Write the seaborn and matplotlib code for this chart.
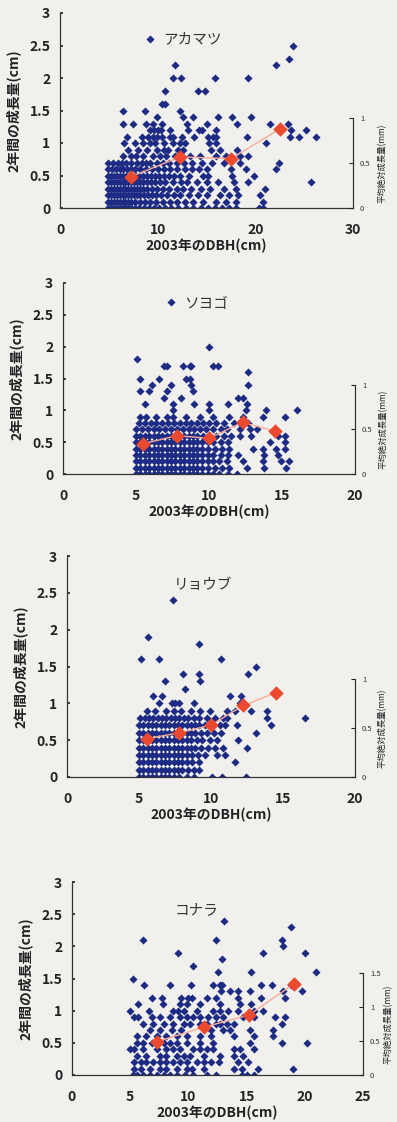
import matplotlib
matplotlib.use("Agg")
import matplotlib.pyplot as plt
import numpy as np
import pandas as pd
import seaborn as sns

sns.set_theme(style="white")
plt.rcParams["font.family"] = ["Noto Sans CJK JP", "DejaVu Sans"]

# ---------------- data ----------------
species = ["アカマツ", "ソヨゴ", "リョウブ", "コナラ"]
x_max = [30, 20, 20, 25]
x_ticks = [[0, 10, 20, 30], [0, 5, 10, 15, 20], [0, 5, 10, 15, 20], [0, 5, 10, 15, 20, 25]]
y_ticks = [0, 0.5, 1, 1.5, 2, 2.5, 3]
y_tick_labels = ["0", "0.5", "1", "1.5", "2", "2.5", "3"]
right_ticks = [[0, 0.5, 1], [0, 0.5, 1], [0, 0.5, 1], [0, 0.5, 1, 1.5]]
right_tick_labels = [["0", "0.5", "1"], ["0", "0.5", "1"], ["0", "0.5", "1"], ["0", "0.5", "1", "1.5"]]
right_top = [1.0, 1.0, 1.0, 1.5]
# how many left-axis cm one right-axis mm spans
right_scale = [1.38, 1.40, 1.33, 1.06]

# growth (cm) -> list of DBH values (cm)
akamatsu_rows = {
    2.6: [9.2], 2.5: [23.9], 2.3: [23.4], 2.2: [11.8, 22.1],
    2.0: [11.6, 12.4, 15.9, 19.3], 1.8: [10.8, 14.1, 14.8], 1.6: [10.4, 10.7],
    1.5: [6.4, 8.7, 12.3],
    1.4: [9.9, 12.6, 13.6, 16.2, 17.6, 19.6],
    1.3: [6.5, 7.5, 8.8, 9.5, 10.4, 13.0, 15.0, 18.1, 21.5, 23.3],
    1.2: [9.2, 9.6, 10.0, 10.3, 11.3, 13.1, 14.2, 14.5, 16.0, 23.7, 25.2],
    1.1: [6.9, 8.4, 9.0, 9.5, 9.9, 10.4, 11.3, 11.6, 12.5, 13.7, 15.2, 15.7, 16.0, 19.1, 23.5, 24.5, 26.2],
    1.0: [6.6, 7.7, 8.5, 9.2, 9.7, 10.6, 11.6, 12.3, 12.8, 15.3, 16.0, 21.1],
    0.9: [7.0, 8.0, 8.9, 9.9, 10.6, 11.1, 12.1, 12.6, 15.5, 16.4, 18.1],
    0.8: [6.5, 7.3, 7.8, 8.5, 9.5, 10.2, 10.9, 11.8, 13.3, 14.3, 16.0, 17.0, 18.4, 19.3],
    0.7: [4.9, 5.4, 5.9, 6.3, 6.8, 7.3, 7.9, 8.4, 8.8, 9.2, 9.9, 10.5, 11.2, 12.0, 12.7, 13.5, 14.5, 15.6, 16.8, 18.4, 22.4],
    0.6: [4.9, 5.3, 5.7, 6.1, 6.5, 6.9, 7.3, 7.7, 8.2, 8.8, 9.4, 10.0, 10.6, 11.3, 12.0, 12.8, 13.5, 14.2, 15.0, 17.5, 19.0, 22.1],
    0.5: [4.9, 5.2, 5.5, 5.8, 6.1, 6.4, 6.8, 7.1, 7.4, 7.8, 8.1, 8.5, 8.9, 9.3, 9.7, 10.1, 10.6, 11.2, 11.7, 12.3, 13.2, 14.6, 15.2, 17.6, 19.9],
    0.4: [4.9, 5.2, 5.5, 5.8, 6.1, 6.4, 6.7, 7.0, 7.3, 7.6, 7.9, 8.2, 8.5, 8.9, 9.3, 9.7, 10.2, 10.8, 11.6, 12.4, 13.0, 14.0, 15.0, 16.2, 17.8, 19.2, 25.7],
    0.3: [4.9, 5.2, 5.5, 5.8, 6.1, 6.4, 6.7, 7.0, 7.3, 7.6, 7.9, 8.2, 8.5, 8.9, 9.4, 9.9, 10.5, 11.2, 12.0, 12.6, 13.4, 14.4, 15.4, 16.8, 18.0, 21.0],
    0.2: [4.9, 5.2, 5.5, 5.8, 6.1, 6.4, 6.7, 7.0, 7.3, 7.6, 7.9, 8.2, 8.6, 9.0, 9.4, 9.8, 10.3, 11.0, 11.7, 12.3, 13.2, 14.1, 15.1, 16.4, 17.3, 18.2, 20.5],
    0.1: [4.9, 5.2, 5.5, 5.8, 6.1, 6.4, 6.7, 7.0, 7.3, 7.7, 8.2, 8.7, 9.2, 9.8, 10.5, 11.3, 12.0, 12.8, 13.6, 14.6, 16.0, 17.0, 18.0, 20.8],
    0.0: [4.9, 5.2, 5.5, 5.8, 6.1, 6.4, 6.7, 7.0, 7.3, 7.7, 8.1, 8.6, 9.1, 9.6, 10.1, 10.7, 11.4, 12.1, 12.9, 13.6, 14.4, 15.2, 15.9, 16.6, 17.3, 18.0, 20.4, 20.8],
}

soyogo_rows = {
    2.7: [7.4], 2.0: [10.0], 1.8: [5.1],
    1.7: [6.9, 7.1, 8.2, 8.7, 8.8, 10.3, 10.6], 1.6: [12.7],
    1.5: [5.3, 6.6, 8.4, 8.7], 1.4: [6.1, 7.4, 8.8, 12.7],
    1.3: [5.3, 5.9, 7.1, 8.9], 1.2: [6.9, 8.1, 12.0, 12.3],
    1.1: [5.6, 7.5, 9.0, 10.0, 11.3, 12.6],
    1.0: [7.5, 10.0, 12.5, 13.9, 16.0],
    0.9: [5.3, 5.7, 6.4, 7.1, 7.5, 8.4, 9.4, 10.3, 11.4, 12.3, 13.7, 15.2],
    0.8: [5.2, 5.6, 6.0, 6.4, 6.8, 7.2, 7.6, 8.0, 8.4, 8.8, 9.2, 9.6, 10.0, 10.5, 11.0, 11.7, 12.1, 12.7],
    0.7: [5.0, 5.4, 5.8, 6.2, 6.6, 7.0, 7.4, 7.8, 8.2, 8.6, 9.0, 9.4, 9.8, 10.3, 10.8, 11.2, 12.1, 12.8, 13.3],
    0.6: [5.0, 5.3, 5.6, 5.9, 6.2, 6.5, 6.8, 7.1, 7.4, 7.7, 8.0, 8.3, 8.6, 8.9, 9.2, 9.6, 10.0, 10.5, 11.0, 11.5, 12.1, 12.9, 14.7, 15.2],
    0.5: [5.0, 5.3, 5.6, 5.9, 6.2, 6.5, 6.8, 7.1, 7.4, 7.7, 8.0, 8.3, 8.6, 8.9, 9.2, 9.5, 9.9, 10.3, 10.8, 11.3, 14.2, 15.2],
    0.4: [5.0, 5.3, 5.6, 5.9, 6.2, 6.5, 6.8, 7.1, 7.4, 7.7, 8.0, 8.3, 8.6, 8.9, 9.2, 9.5, 9.9, 10.4, 10.9, 11.4, 13.0, 13.7, 14.6, 15.2],
    0.3: [5.0, 5.3, 5.6, 5.9, 6.2, 6.5, 6.8, 7.1, 7.4, 7.7, 8.0, 8.3, 8.6, 8.9, 9.2, 9.5, 9.9, 10.3, 10.8, 11.3, 12.0, 13.8, 14.7],
    0.2: [5.0, 5.3, 5.6, 5.9, 6.2, 6.5, 6.8, 7.1, 7.4, 7.7, 8.0, 8.3, 8.6, 8.9, 9.2, 9.5, 9.9, 10.3, 10.7, 11.2, 12.3, 13.7, 14.9, 15.5],
    0.1: [5.0, 5.3, 5.6, 5.9, 6.2, 6.5, 6.8, 7.1, 7.4, 7.7, 8.0, 8.3, 8.6, 8.9, 9.2, 9.5, 9.9, 10.4, 10.9, 11.4, 12.6, 13.8, 15.3],
    0.0: [5.0, 5.3, 5.6, 5.9, 6.2, 6.5, 6.8, 7.1, 7.4, 7.7, 8.0, 8.3, 8.6, 8.9, 9.2, 9.5, 9.9, 10.3, 10.7, 11.3, 11.9],
}

ryoubu_rows = {
    2.4: [7.35], 1.9: [5.65], 1.8: [9.2], 1.6: [5.15, 6.4, 10.7],
    1.5: [13.1], 1.4: [8.05, 9.2, 12.6], 1.3: [6.8, 9.25], 1.2: [8.2],
    1.1: [6.0, 6.6, 11.3, 12.1],
    1.0: [6.4, 7.3, 7.5, 7.75, 8.8, 12.0],
    0.9: [5.55, 6.1, 6.9, 7.4, 7.95, 8.6, 9.25, 9.95, 11.1, 11.7, 12.8, 13.9],
    0.8: [5.1, 5.4, 5.7, 6.0, 6.3, 6.6, 6.9, 7.2, 7.5, 7.8, 8.1, 8.4, 8.8, 9.2, 9.7, 10.3, 10.8, 11.1, 13.9, 16.5],
    0.7: [5.0, 5.3, 5.6, 5.9, 6.2, 6.5, 6.8, 7.1, 7.4, 7.7, 8.0, 8.3, 8.6, 8.9, 9.2, 9.6, 10.1, 10.6, 11.0, 11.8, 14.15],
    0.6: [5.0, 5.3, 5.6, 5.9, 6.2, 6.5, 6.8, 7.1, 7.4, 7.7, 8.0, 8.3, 8.6, 8.9, 9.3, 9.7, 10.2, 10.7, 13.1],
    0.5: [5.0, 5.3, 5.6, 5.9, 6.2, 6.5, 6.8, 7.1, 7.4, 7.7, 8.0, 8.3, 8.6, 9.0, 9.4, 9.9, 10.4, 11.9],
    0.4: [5.0, 5.3, 5.6, 5.9, 6.2, 6.5, 6.8, 7.1, 7.4, 7.7, 8.0, 8.3, 8.6, 8.9, 9.3, 9.8, 10.3, 10.8, 12.5],
    0.3: [5.0, 5.3, 5.6, 5.9, 6.2, 6.5, 6.8, 7.1, 7.4, 7.7, 8.0, 8.3, 8.7, 9.1, 9.6, 10.4, 11.0],
    0.2: [5.0, 5.3, 5.6, 5.9, 6.2, 6.5, 6.8, 7.1, 7.4, 7.7, 8.0, 8.3, 8.7, 9.2, 11.7],
    0.1: [5.0, 5.3, 5.6, 5.9, 6.2, 6.5, 6.8, 7.1, 7.4, 7.7, 8.0, 8.4, 8.8, 9.2],
    0.0: [5.0, 5.3, 5.6, 5.9, 6.2, 6.5, 6.8, 7.1, 7.4, 7.8, 8.3, 8.8, 10.1, 10.75, 12.4],
}

konara_rows = {
    2.4: [13.1], 2.3: [18.8], 2.1: [6.1, 12.4, 18.0], 2.0: [18.1],
    1.9: [9.1, 16.4, 20.0], 1.8: [12.9], 1.7: [10.4], 1.6: [12.5, 15.4, 21.0],
    1.5: [5.2],
    1.4: [6.2, 8.4, 10.2, 12.1, 12.7, 12.9, 16.2, 17.2, 18.8],
    1.3: [12.8, 13.6, 14.3, 15.3, 18.1, 19.8],
    1.2: [6.9, 7.7, 9.4, 10.0, 10.3, 11.6, 12.4, 14.3, 16.2, 18.3],
    1.1: [5.7, 7.8, 9.3, 9.9, 11.0, 12.7, 14.4, 15.4],
    1.0: [5.0, 6.6, 8.7, 9.1, 9.6, 10.7, 12.1, 12.7, 13.4, 14.3, 15.6, 16.4],
    0.9: [5.3, 5.7, 6.9, 7.6, 8.4, 9.3, 9.9, 10.4, 11.0, 11.7, 12.4, 13.0, 14.7, 15.6, 17.4, 18.3],
    0.8: [6.1, 7.0, 7.9, 8.7, 9.6, 10.1, 11.0, 11.6, 12.4, 12.7, 13.3, 13.9, 18.0],
    0.7: [6.7, 7.6, 8.6, 9.4, 11.9, 13.0, 13.6, 15.3, 17.3],
    0.6: [5.6, 6.4, 7.3, 8.1, 9.0, 9.9, 11.0, 11.9, 13.9, 15.6, 17.3],
    0.5: [5.6, 6.1, 6.9, 7.9, 8.4, 9.0, 9.9, 11.0, 12.1, 15.3, 18.0, 20.2],
    0.4: [5.0, 5.3, 6.1, 7.3, 8.1, 8.7, 9.3, 10.4, 11.0, 11.6, 12.1, 13.9, 14.4, 15.6],
    0.3: [5.6, 6.4, 7.6, 8.1, 9.0, 9.6, 10.1, 11.3, 12.7, 13.9, 14.7],
    0.2: [5.3, 5.9, 6.4, 7.0, 7.6, 8.1, 8.7, 9.3, 9.9, 10.7, 11.3, 11.9, 12.6, 14.3, 15.1],
    0.1: [5.3, 5.9, 6.7, 7.6, 8.1, 9.0, 9.9, 10.3, 11.3, 13.9, 14.6, 16.0, 19.0],
    0.0: [5.2, 5.6, 6.1, 6.7, 7.3, 7.9, 8.4, 9.0, 9.7, 10.4, 11.6, 12.4, 14.6, 15.0, 15.6],
}

# class means: DBH class centre (cm) and mean absolute growth (mm, right axis)
mean_x = [[7.3, 12.3, 17.5, 22.5],
          [5.5, 7.8, 10.0, 12.3, 14.5],
          [5.55, 7.75, 10.0, 12.25, 14.5],
          [7.3, 11.3, 15.2, 19.1]]
mean_y = [[0.35, 0.57, 0.55, 0.88],
          [0.34, 0.43, 0.40, 0.58, 0.48],
          [0.39, 0.45, 0.53, 0.73, 0.86],
          [0.49, 0.70, 0.88, 1.34]]

all_rows = [akamatsu_rows, soyogo_rows, ryoubu_rows, konara_rows]

# ---------------- layout ----------------
W, H = 397, 1122
# (left, right, top, bottom) in pixels
rects = [(60, 353, 13, 208), (63, 355, 283, 474), (67, 355, 556, 777), (72, 363, 882, 1075)]
title_pos = [(10.6, 2.6), (8.3, 2.68), (7.4, 2.6), (8.8, 2.56)]
right_label_x = [1.085, 1.08, 1.08, 1.07]

bg = "#f1f0ed"
blue = "#1d2b85"
red = "#ec4a2e"
salmon = "#f6ab98"

fig = plt.figure(figsize=(W / 100, H / 100), dpi=100, facecolor=bg)

for i in range(4):
    l, r, t, b = rects[i]
    ax = fig.add_axes([l / W, 1 - b / H, (r - l) / W, (b - t) / H])
    ax.set_facecolor("none")
    rows = all_rows[i]
    xs, ys = [], []
    for yv, xl in rows.items():
        xs.extend(xl)
        ys.extend([yv] * len(xl))
    df = pd.DataFrame({"dbh": xs, "growth": ys})
    sns.scatterplot(data=df, x="dbh", y="growth", ax=ax, marker="D", s=17,
                    color=blue, edgecolor=blue, linewidth=0, zorder=2)
    ax.set_xlim(0, x_max[i])
    ax.set_ylim(0, 3)
    ax.set_xticks(x_ticks[i])
    ax.set_xticklabels([str(v) for v in x_ticks[i]], fontsize=10, fontweight="bold", color="#222222")
    ax.set_yticks(y_ticks)
    ax.set_yticklabels(y_tick_labels, fontsize=10, fontweight="bold", color="#222222")
    ax.tick_params(axis="x", length=0, pad=11)
    ax.tick_params(axis="y", length=2, direction="in", pad=7)
    for s in ["top", "right"]:
        ax.spines[s].set_visible(False)
    for s in ["left", "bottom"]:
        ax.spines[s].set_color("#333333")
        ax.spines[s].set_linewidth(0.9)
    ax.set_xlabel("2003年のDBH(cm)", fontsize=10, fontweight="bold", color="#222222", labelpad=1)
    ax.set_ylabel("2年間の成長量(cm)", fontsize=10, fontweight="bold", color="#222222", labelpad=6)
    ax.text(title_pos[i][0], title_pos[i][1], species[i], fontsize=10.5, color="#333333",
            va="center", ha="left")

    ax2 = ax.twinx()
    ax2.set_ylim(0, 3 / right_scale[i])
    for s in ["top", "left", "bottom"]:
        ax2.spines[s].set_visible(False)
    ax2.spines["right"].set_bounds(0, right_top[i])
    ax2.spines["right"].set_color("#333333")
    ax2.spines["right"].set_linewidth(0.9)
    ax2.set_yticks(right_ticks[i])
    ax2.set_yticklabels(right_tick_labels[i], fontsize=5.5, color="#333333")
    ax2.tick_params(axis="y", direction="in", length=3, pad=5, width=0.8)
    ax2.set_ylabel("平均絶対成長量(mm)", fontsize=6, color="#222222", labelpad=2)
    ax2.yaxis.set_label_coords(right_label_x[i], right_top[i] / (3 / right_scale[i]) / 2)
    mdf = pd.DataFrame({"dbh": mean_x[i], "mean": mean_y[i]})
    sns.lineplot(data=mdf, x="dbh", y="mean", ax=ax2, color=salmon, linewidth=1.0, zorder=3)
    sns.scatterplot(data=mdf, x="dbh", y="mean", ax=ax2, marker="D", s=55,
                    color=red, edgecolor=red, linewidth=0, zorder=4)
    ax2.set_xlabel("")
    ax.set_xlim(0, x_max[i])

fig.savefig("out.png", dpi=100, facecolor=bg)
